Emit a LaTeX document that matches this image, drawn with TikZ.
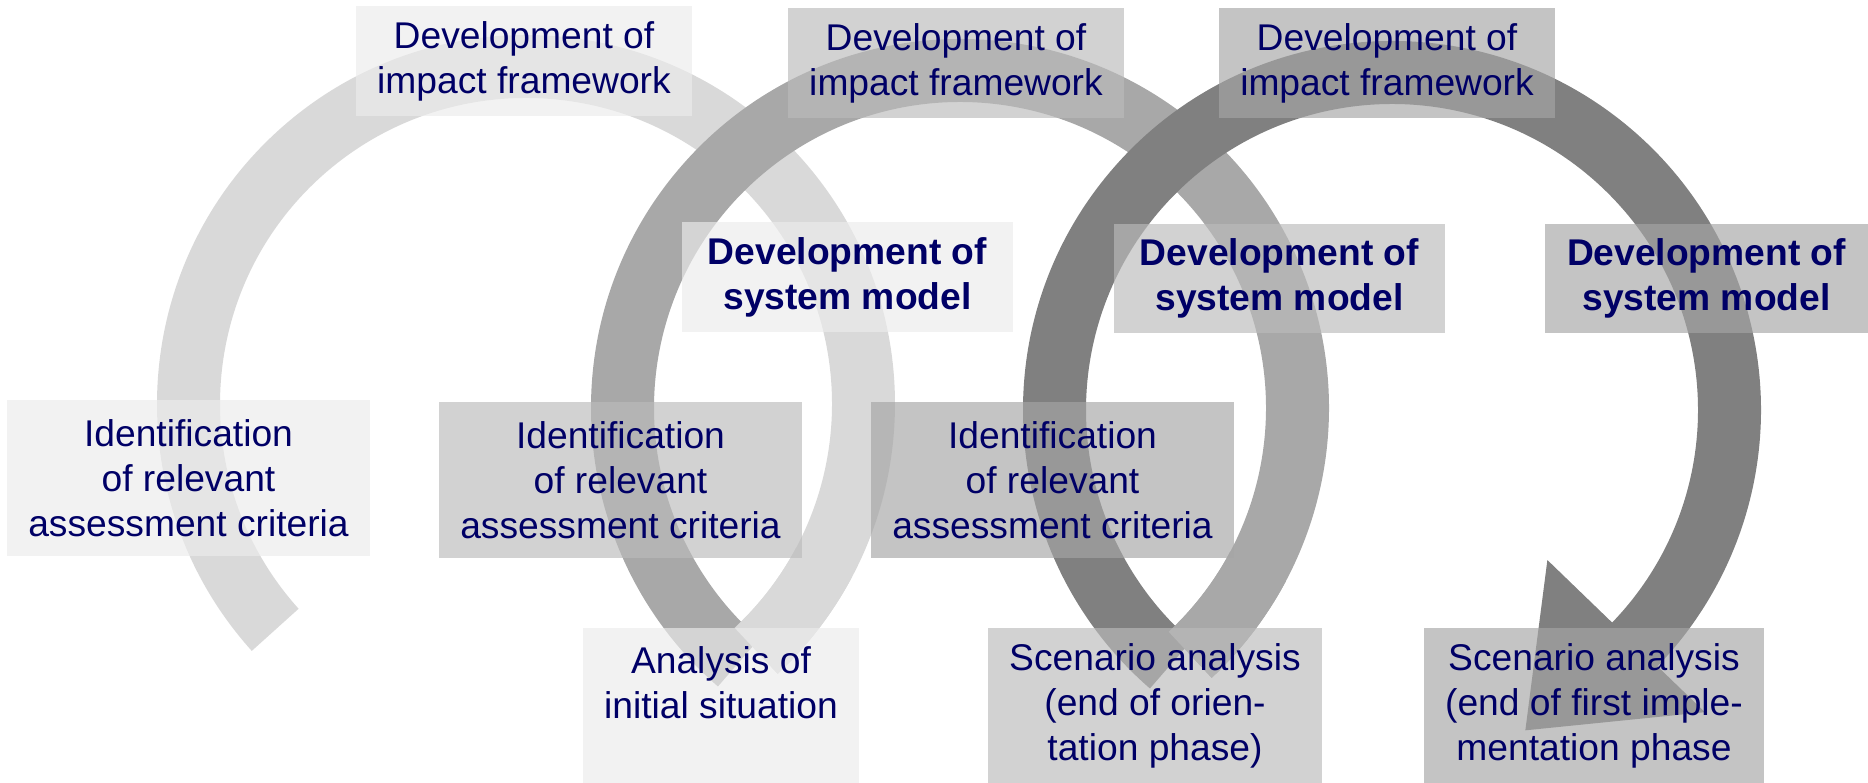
\documentclass[tikz,border=0pt]{standalone}
\usepackage{fontspec}
\setmainfont{Liberation Sans}
\usetikzlibrary{calc}

\definecolor{navy}{HTML}{000066}
\definecolor{arcA}{HTML}{D9D9D9}
\definecolor{arcB}{HTML}{A8A8A8}
\definecolor{arcC}{HTML}{808080}
\definecolor{boxA}{HTML}{ECECEC}
\definecolor{boxB}{HTML}{BBBBBB}
\definecolor{boxC}{HTML}{A5A5A5}

% one ring segment of the spiral: style, centre, start angle, end angle
\newcommand{\ringband}[4]{%
  \fill[#1] ($(#2)+(#3:369)$) arc[start angle=#3, end angle=#4, radius=369]
    -- ($(#2)+(#4:306)$) arc[start angle=#4, end angle=#3, radius=306] -- cycle;}

\begin{document}
\begin{tikzpicture}[x=1pt, y=1pt,
  box/.style={inner sep=0pt, outer sep=0pt, align=center, text=navy,
    font=\fontsize{37.2}{45}\selectfont, fill opacity=0.66, text opacity=1},
  boldbox/.style={box, font=\fontsize{37.2}{45}\selectfont\bfseries},
  stA/.style={fill=boxA},
  stB/.style={fill=boxB},
  stC/.style={fill=boxC}]

\useasboundingbox (0,0) rectangle (1868,783);

% centres of the three loops
\coordinate (c1) at (526,379);
\coordinate (c2) at (960,375);
\coordinate (c3) at (1392,373);

% loops, woven: each later loop passes over the earlier one at the top,
% the earlier one's tail lies over the next one's start at the bottom
\ringband{arcA}{c1}{222}{-47}
\ringband{arcB}{c2}{229}{-47}
\ringband{arcA}{c1}{-28}{-47}
\fill[arcC] ($(c3)+(229:369)$) arc[start angle=229, end angle=-44, radius=369]
  -- ($(c3)+(-44:435)$) -- ($(c3)+(-67.4:347)$) -- ($(c3)+(-44:216)$)
  -- ($(c3)+(-44:306)$) arc[start angle=-44, end angle=229, radius=306] -- cycle;
\ringband{arcB}{c2}{-28}{-47}

% first loop: labels
\node[box, stA, minimum width=336, minimum height=110] (imp1) at (524,722)
  {Development of\\impact framework};
\node[boldbox, stA, minimum width=331, minimum height=110] (sys1) at (847.5,506)
  {Development of\\system model};
\node[box, stA, minimum width=363, minimum height=156] (idn1) at (188.5,305)
  {Identification\\of relevant\\assessment criteria};
\node[box, stA, minimum width=276, minimum height=155] (ana1) at (721,77.5)
  {Analysis of\\initial situation\\\mbox{}};

% second loop: labels
\node[box, stB, minimum width=336, minimum height=110] (imp2) at (956,720)
  {Development of\\impact framework};
\node[boldbox, stB, minimum width=331, minimum height=109] (sys2) at (1279.5,504.5)
  {Development of\\system model};
\node[box, stB, minimum width=363, minimum height=156] (idn2) at (620.5,303)
  {Identification\\of relevant\\assessment criteria};
\node[box, stB, minimum width=334, minimum height=155] (sce2) at (1155,77.5)
  {Scenario analysis\\(end of orien-\\tation phase)};

% third loop: labels
\node[box, stC, minimum width=336, minimum height=110] (imp3) at (1387,720)
  {Development of\\impact framework};
\node[boldbox, stC, minimum width=323, minimum height=109] (sys3) at (1706.5,504.5)
  {Development of\\system model};
\node[box, stC, minimum width=363, minimum height=156] (idn3) at (1052.5,303)
  {Identification\\of relevant\\assessment criteria};
\node[box, stC, minimum width=340, minimum height=155] (sce3) at (1594,77.5)
  {Scenario analysis\\(end of first imple-\\mentation phase};

\end{tikzpicture}
\end{document}
